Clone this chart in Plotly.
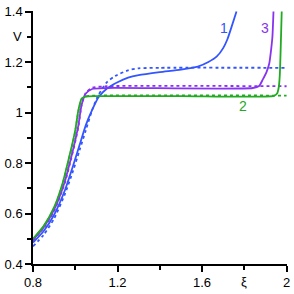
import plotly.graph_objects as go

# Curve 1 (blue)
x1 = [0.8, 0.85, 0.9, 0.95, 0.99, 1.02, 1.05, 1.08, 1.11, 1.15, 1.2, 1.25, 1.3, 1.4, 1.5, 1.58, 1.63, 1.67, 1.7, 1.72, 1.74, 1.763]
v1 = [0.485, 0.53, 0.595, 0.69, 0.79, 0.87, 0.95, 1.01, 1.06, 1.095, 1.12, 1.138, 1.148, 1.16, 1.17, 1.182, 1.2, 1.222, 1.255, 1.29, 1.34, 1.4]
x1d = [0.8, 0.85, 0.9, 0.95, 0.99, 1.02, 1.05, 1.08, 1.11, 1.15, 1.19, 1.25, 1.3, 1.4, 2.0]
v1d = [0.47, 0.515, 0.58, 0.675, 0.77, 0.85, 0.93, 1.01, 1.07, 1.12, 1.145, 1.167, 1.175, 1.177, 1.177]

# Curve 2 (green)
x2 = [0.8, 0.85, 0.9, 0.94, 0.97, 0.99, 1.0, 1.015, 1.03, 1.05, 1.1, 1.5, 1.94, 1.955, 1.963, 1.968, 1.972, 1.977]
v2 = [0.5, 0.55, 0.625, 0.72, 0.82, 0.89, 0.93, 1.01, 1.055, 1.063, 1.065, 1.065, 1.066, 1.075, 1.1, 1.15, 1.25, 1.4]
x2d = [0.8, 0.85, 0.9, 0.94, 0.97, 0.99, 1.0, 1.015, 1.03, 1.05, 1.1, 2.0]
v2d = [0.497, 0.547, 0.62, 0.715, 0.815, 0.885, 0.925, 1.005, 1.052, 1.064, 1.067, 1.067]

# Curve 3 (purple)
x3 = [0.8, 0.85, 0.9, 0.95, 0.98, 1.0, 1.015, 1.03, 1.05, 1.08, 1.15, 1.84, 1.87, 1.887, 1.905, 1.918, 1.927, 1.933, 1.938]
v3 = [0.495, 0.545, 0.615, 0.725, 0.82, 0.89, 0.95, 1.03, 1.075, 1.093, 1.097, 1.097, 1.105, 1.13, 1.16, 1.194, 1.25, 1.3, 1.4]
x3d = [0.8, 0.85, 0.9, 0.95, 0.98, 1.0, 1.015, 1.03, 1.05, 1.08, 1.15, 2.0]
v3d = [0.492, 0.542, 0.61, 0.72, 0.815, 0.885, 0.945, 1.03, 1.078, 1.098, 1.104, 1.104]

x_tickvals = [0.8, 1.2, 1.6, 2.0]
x_ticktext = ["0.8", "1.2", "1.6", "2"]
y_tickvals = [0.4, 0.6, 0.8, 1.0, 1.2, 1.4]
y_ticktext = ["0.4", "0.6", "0.8", "1", "1.2", "1.4"]

BLUE = "#3355ff"
GREEN = "#22aa22"
PURPLE = "#8833ee"

fig = go.Figure()
for xs, vs, c, dash in [
    (x1d, v1d, BLUE, "dot"), (x3d, v3d, PURPLE, "dot"), (x2d, v2d, GREEN, "dot"),
    (x1, v1, BLUE, "solid"), (x3, v3, PURPLE, "solid"), (x2, v2, GREEN, "solid"),
]:
    fig.add_trace(go.Scatter(x=xs, y=vs, mode="lines",
                             line=dict(color=c, width=1.8, dash=dash, shape="spline", smoothing=0.6),
                             showlegend=False, hoverinfo="skip", cliponaxis=True))

font = dict(family="Liberation Sans, Arial, sans-serif", size=13, color="black")
fig.update_xaxes(range=[0.8, 2.002], showgrid=False, zeroline=False, showline=True, linecolor="black", linewidth=1.5,
                 ticks="outside", ticklen=6, tickwidth=1.5, tickcolor="black",
                 tickvals=x_tickvals, ticktext=x_ticktext, tickfont=font, ticklabeloverflow="allow",
                 minor=dict(ticks="outside", ticklen=4, tickwidth=1.5, tickcolor="black", dtick=0.2, tick0=0.8))
fig.update_yaxes(range=[0.4, 1.402], showgrid=False, zeroline=False, showline=True, linecolor="black", linewidth=1.5,
                 ticks="outside", ticklen=6, tickwidth=1.5, tickcolor="black",
                 tickvals=y_tickvals, ticktext=y_ticktext, tickfont=font, ticklabeloverflow="allow",
                 minor=dict(ticks="outside", ticklen=4, tickwidth=1.5, tickcolor="black", dtick=0.1, tick0=0.4))

anns = [
    dict(x=1.702, y=1.335, text="1", font=dict(color=BLUE, size=14, family="Liberation Sans, Arial")),
    dict(x=1.898, y=1.335, text="3", font=dict(color=PURPLE, size=14, family="Liberation Sans, Arial")),
    dict(x=1.795, y=1.027, text="2", font=dict(color=GREEN, size=14, family="Liberation Sans, Arial")),
]
for a in anns:
    fig.add_annotation(xref="x", yref="y", showarrow=False, **a)
fig.add_annotation(xref="paper", yref="y", x=0, y=1.3, xanchor="right", xshift=-9, text="V",
                   showarrow=False, font=font)
fig.add_annotation(xref="x", yref="paper", x=1.8, y=0, yanchor="top", yshift=-8, text="ξ",
                   showarrow=False, font=font)

fig.update_layout(width=294, height=294, margin=dict(l=33, r=4, t=7, b=29),
                  plot_bgcolor="white", paper_bgcolor="white")
fig.write_html("out.html", config={"displayModeBar": False},
               post_script="document.body.style.margin='0';")
